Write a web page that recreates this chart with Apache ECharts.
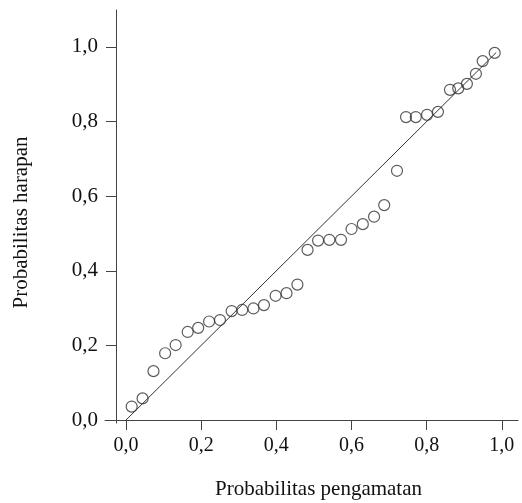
<!DOCTYPE html>
<html>
<head>
<meta charset="utf-8">
<script src="https://cdn.jsdelivr.net/npm/echarts@6/dist/echarts.min.js"></script>
<style>
  html, body { margin: 0; padding: 0; background: #fff; }
  #chart { width: 522px; height: 503px; }
</style>
</head>
<body>
<div id="chart"></div>
<script>
// probabilitas pengamatan (x) dan harapan (y)
var obsX = [0.015, 0.044, 0.073, 0.104, 0.132, 0.164, 0.192, 0.221, 0.250, 0.281,
  0.309, 0.339, 0.367, 0.398, 0.427, 0.456, 0.483, 0.511, 0.541, 0.572,
  0.600, 0.630, 0.660, 0.687, 0.721, 0.745, 0.771, 0.801, 0.830, 0.862,
  0.884, 0.907, 0.931, 0.949, 0.981]
var expY = [0.036, 0.058, 0.131, 0.179, 0.201, 0.236, 0.247, 0.264, 0.268, 0.292,
  0.295, 0.299, 0.308, 0.333, 0.340, 0.363, 0.456, 0.481, 0.483, 0.483,
  0.512, 0.525, 0.545, 0.576, 0.668, 0.812, 0.812, 0.818, 0.826, 0.885,
  0.889, 0.901, 0.928, 0.962, 0.984]
var refLine = [[0, 0], [0.985, 0.985]]
var tickVals = [0, 0.2, 0.4, 0.6, 0.8, 1.0]

var points = obsX.map(function(x, i) { return [x, expY[i]] })

function fmt(v) {
  return v.toFixed(1).replace('.', ',')
}

var chart = echarts.init(document.getElementById('chart'), null, { renderer: 'canvas' })

var font = '"Liberation Serif", "DejaVu Serif", serif'

var option = {
  backgroundColor: '#fff',
  animation: false,
  grid: {
    left: 105,
    right: 4,
    top: 10,
    bottom: 80,
    outerBoundsMode: 'none'
  },
  xAxis: {
    type: 'value',
    min: -0.056,
    max: 1.043,
    name: 'Probabilitas pengamatan',
    nameLocation: 'middle',
    nameGap: 56,
    nameTextStyle: { fontFamily: font, fontSize: 21, color: '#111', padding: [0, 0, 0, 14] },
    splitLine: { show: false },
    axisLine: { onZero: true, lineStyle: { color: '#444', width: 1 } },
    axisTick: { customValues: tickVals, length: 10, lineStyle: { color: '#444' } },
    axisLabel: {
      customValues: tickVals,
      formatter: fmt,
      margin: 13,
      fontFamily: font,
      fontSize: 20,
      color: '#111'
    }
  },
  yAxis: {
    type: 'value',
    min: -0.008,
    max: 1.099,
    offset: -11,
    name: 'Probabilitas harapan',
    nameLocation: 'middle',
    nameGap: 84,
    nameTextStyle: { fontFamily: font, fontSize: 21, color: '#111', padding: [0, 12, 0, 0] },
    splitLine: { show: false },
    axisLine: { show: true, onZero: false, lineStyle: { color: '#444', width: 1 } },
    axisTick: { customValues: tickVals, length: 10, lineStyle: { color: '#444' } },
    axisLabel: {
      customValues: tickVals,
      formatter: fmt,
      margin: 18,
      fontFamily: font,
      fontSize: 21,
      color: '#111'
    }
  },
  series: [
    {
      type: 'line',
      data: refLine,
      showSymbol: false,
      lineStyle: { color: '#333', width: 1 },
      silent: true
    },
    {
      type: 'scatter',
      data: points,
      symbol: 'circle',
      symbolSize: 11,
      itemStyle: { color: 'rgba(255,255,255,0)', borderColor: '#333', borderWidth: 1.2 }
    }
  ]
}

chart.setOption(option)
</script>
</body>
</html>
